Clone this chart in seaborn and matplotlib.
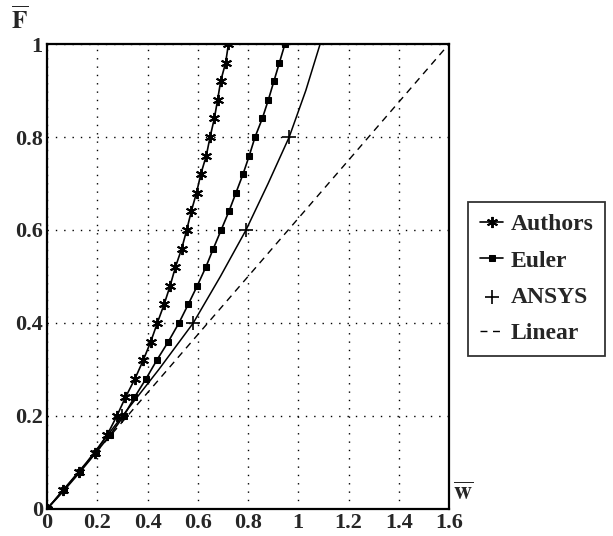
import matplotlib
matplotlib.use("Agg")
import matplotlib.pyplot as plt
import seaborn as sns

# load levels (F bar) and displacements (w bar)
authors_F = [0.00, 0.04, 0.08, 0.12, 0.16, 0.20, 0.24, 0.28, 0.32, 0.36, 0.40, 0.44, 0.48,
             0.52, 0.56, 0.60, 0.64, 0.68, 0.72, 0.76, 0.80, 0.84, 0.88, 0.92, 0.96, 1.00]
authors_w = [0.000, 0.065, 0.128, 0.190, 0.240, 0.278, 0.312, 0.350, 0.383, 0.413, 0.439, 0.466, 0.490,
             0.511, 0.536, 0.556, 0.574, 0.595, 0.612, 0.634, 0.649, 0.666, 0.679, 0.691, 0.711, 0.722]

euler_F = authors_F
euler_w = [0.000, 0.068, 0.132, 0.193, 0.252, 0.305, 0.348, 0.394, 0.437, 0.483, 0.525, 0.562, 0.598,
           0.632, 0.662, 0.693, 0.724, 0.752, 0.780, 0.805, 0.828, 0.857, 0.881, 0.903, 0.925, 0.947]

ansys_F = [0.2, 0.4, 0.6, 0.8]
ansys_w = [0.300, 0.582, 0.792, 0.964]

# solid curve through the ANSYS points
curve_F = [0.0, 0.1, 0.2, 0.3, 0.4, 0.5, 0.6, 0.7, 0.8, 0.9, 1.0, 1.01]
curve_w = [0.0, 0.157, 0.300, 0.445, 0.582, 0.690, 0.792, 0.880, 0.964, 1.030, 1.087, 1.093]

linear_F = [0.0, 1.0]
linear_w = [0.0, 1.6]

x_ticks = [0, 0.2, 0.4, 0.6, 0.8, 1.0, 1.2, 1.4, 1.6]
x_labels = ["0", "0.2", "0.4", "0.6", "0.8", "1", "1.2", "1.4", "1.6"]
y_ticks = [0, 0.2, 0.4, 0.6, 0.8, 1.0]
y_labels = ["0", "0.2", "0.4", "0.6", "0.8", "1"]

sns.set_style("white")
plt.rcParams["font.family"] = ["Liberation Serif", "DejaVu Serif"]
plt.rcParams["font.weight"] = "bold"
plt.rcParams["mathtext.fontset"] = "stix"

fig = plt.figure(figsize=(6.13, 5.36), dpi=100)
ax = fig.add_axes([0.0767, 0.0504, 0.6558, 0.8675])

sns.lineplot(x=authors_w, y=authors_F, ax=ax, color="black", linewidth=1.2,
             marker=(6, 2, 0), markersize=8, markeredgewidth=1.4,
             markeredgecolor="black", label="Authors")
sns.lineplot(x=euler_w, y=euler_F, ax=ax, color="black", linewidth=1.2,
             marker="s", markersize=5, markeredgecolor="black", label="Euler")
sns.lineplot(x=curve_w, y=curve_F, ax=ax, color="black", linewidth=1.1)
sns.scatterplot(x=ansys_w, y=ansys_F, ax=ax, color="black", marker="+", s=110,
                linewidth=1.2, label="ANSYS", zorder=5)
sns.lineplot(x=linear_w, y=linear_F, ax=ax, color="black", linewidth=1.0,
             linestyle=(0, (5, 4)), label="Linear")

ax.set_xlim(0, 1.6)
ax.set_ylim(0, 1.0)
ax.set_xticks(x_ticks)
ax.set_xticklabels(x_labels)
ax.set_yticks(y_ticks)
ax.set_yticklabels(y_labels)
ax.tick_params(length=0, labelsize=16, pad=3)
for lbl in ax.get_xticklabels() + ax.get_yticklabels():
    lbl.set_fontweight("bold")
ax.grid(True, color="black", linestyle=(0, (1, 5)), linewidth=1.0)
for s in ax.spines.values():
    s.set_color("black")
    s.set_linewidth(1.6)
ax.set_xlabel("")
ax.set_ylabel("")

ax.text(-0.067, 1.052, r"$\overline{\mathrm{F}}$", transform=ax.transAxes,
        fontsize=18, ha="center", va="center")
ax.text(1.035, 0.035, r"$\overline{\mathrm{w}}$", transform=ax.transAxes,
        fontsize=18, ha="center", va="center")

leg = ax.legend(loc="upper left", bbox_to_anchor=(1.047, 0.66), borderaxespad=0,
                frameon=True, fancybox=False, edgecolor="black", handlelength=1.0,
                handletextpad=0.3, labelspacing=0.62, borderpad=0.5,
                prop={"weight": "bold", "size": 17})
leg.get_frame().set_linewidth(1.3)

fig.savefig("out.png", dpi=100)
